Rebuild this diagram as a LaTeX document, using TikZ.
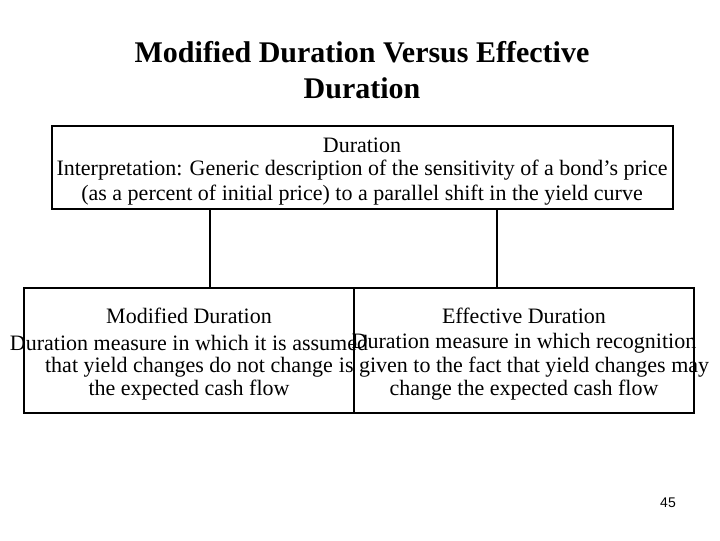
\documentclass[tikz,border=0pt]{standalone}
\usepackage{fontspec}
\setmainfont{Liberation Serif}
\newfontfamily\sansf{Liberation Sans}
\begin{document}
\begin{tikzpicture}[x=0.75pt,y=-0.75pt,
  box/.style={draw,line width=0.9pt},
  txt/.style={font=\fontsize{16.5}{19}\selectfont,inner sep=0pt}]
\useasboundingbox (0,0) rectangle (720,540);
\node[font=\fontsize{22.5}{27}\selectfont\bfseries,align=center] (title) at (362,70) {Modified Duration Versus Effective\\Duration};
\draw[box] (52,126) rectangle (673,209);
\node[txt] (t1) at (362,145) {Duration};
\node[txt] (t2) at (362,170) {Interpretation: Generic description of the sensitivity of a bond's price};
\node[txt] (t3) at (362,195) {(as a percent of initial price) to a parallel shift in the yield curve};
\coordinate (a1) at (210,209); \coordinate (a2) at (210,288);
\coordinate (b1) at (497,209); \coordinate (b2) at (497,288);
\draw[line width=0.9pt] (a1) -- (a2);
\draw[line width=0.9pt] (b1) -- (b2);
\draw[box] (24,288) rectangle (354,413);
\draw[box] (354,288) rectangle (694,413);
\node[txt] (m1) at (189,316) {Modified Duration};
\node[txt] (m2) at (189,343) {Duration measure in which it is assumed};
\node[txt] (m3) at (189,367) {that yield changes do not change};
\node[txt] (m4) at (189,390) {the expected cash flow};
\node[txt] (e1) at (524,316) {Effective Duration};
\node[txt] (e2) at (524,343) {Duration measure in which recognition};
\node[txt] (e3) at (524,367) {is given to the fact that yield changes may};
\node[txt] (e4) at (524,390) {change the expected cash flow};
\node[font=\sansf\fontsize{10.5}{12}\selectfont] (pg) at (668,503) {45};
\end{tikzpicture}
\end{document}
